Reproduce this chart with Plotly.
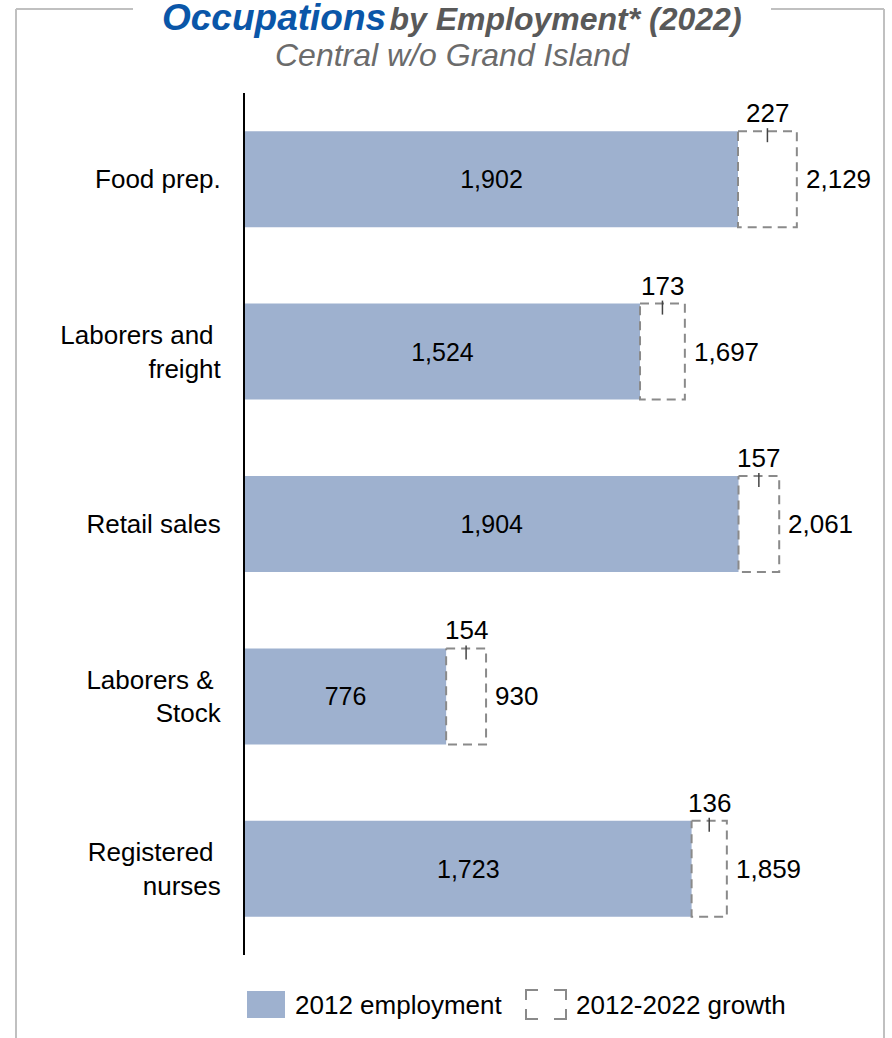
import plotly.graph_objects as go

# Occupation data, Central region excluding Grand Island
categories = ["Food prep.", "Laborers and <br>freight", "Retail sales",
              "Laborers & <br>Stock", "Registered <br>nurses"]
employment_2012 = [1902, 1524, 1904, 776, 1723]
growth_2012_2022 = [227, 173, 157, 154, 136]

totals = [b + g for b, g in zip(employment_2012, growth_2012_2022)]
positions = list(range(len(categories)))

W, H = 892, 1038
ML, MR, MT, MB = 245, 25, 93, 83
BAR_W = 0.557
HALF = BAR_W / 2

BLUE = "#9EB1CF"
DASH_GRAY = "#8a8a8a"
FRAME_GRAY = "#c0c0c0"
FONT = "Liberation Sans, Arial, sans-serif"

fig = go.Figure()

fig.add_trace(go.Bar(
    y=positions, x=employment_2012, orientation="h", width=BAR_W,
    marker=dict(color=BLUE, line=dict(width=0)),
    text=[f"{v:,}" for v in employment_2012],
    textposition="inside", insidetextanchor="middle", textangle=0,
    textfont=dict(size=25, color="black", family=FONT),
    constraintext="none", showlegend=False, hoverinfo="skip",
))

# Dashed outline for the 2012-2022 growth segment
bx, by = [], []
for p, b, t in zip(positions, employment_2012, totals):
    bx += [b, t, t, b, b, None]
    by += [p - HALF, p - HALF, p + HALF, p + HALF, p - HALF, None]
fig.add_trace(go.Scatter(
    x=bx, y=by, mode="lines",
    line=dict(color=DASH_GRAY, width=2, dash="9px,6px"),
    showlegend=False, hoverinfo="skip",
))

# Small tick at the centre of each growth box's top edge
unit_px = (H - MT - MB) / len(categories)
tx, ty = [], []
for p, b, g in zip(positions, employment_2012, growth_2012_2022):
    mid = b + g / 2
    top = p - HALF
    tx += [mid, mid, None]
    ty += [top - 3 / unit_px, top + 11 / unit_px, None]
fig.add_trace(go.Scatter(
    x=tx, y=ty, mode="lines", line=dict(color="#444444", width=1.5),
    showlegend=False, hoverinfo="skip",
))

annotations = []
for p, b, g, t in zip(positions, employment_2012, growth_2012_2022, totals):
    annotations.append(dict(
        x=b + g / 2, y=p - HALF, xref="x", yref="y", text=f"{g:,}",
        showarrow=False, yanchor="bottom", yshift=1,
        font=dict(size=26, color="black", family=FONT)))
    annotations.append(dict(
        x=t, y=p, xref="x", yref="y", text=f"{t:,}",
        showarrow=False, xanchor="left", xshift=7,
        font=dict(size=26, color="black", family=FONT)))

pw = W - ML - MR
ph = H - MT - MB


def px_x(v):
    return (v - ML) / pw


def px_y(v):
    return (H - MB - v) / ph


# Title and subtitle
annotations.append(dict(
    x=px_x(452), y=px_y(17), xref="paper", yref="paper", showarrow=False,
    xanchor="center", yanchor="middle",
    text="<b><i><span style='color:#0a56a8;font-size:37px'>Occupations</span>"
         " <span style='color:#595959;font-size:32px'>by Employment* (2022)</span></i></b>",
    font=dict(family=FONT)))
annotations.append(dict(
    x=px_x(452), y=px_y(55), xref="paper", yref="paper", showarrow=False,
    xanchor="center", yanchor="middle", text="<i>Central w/o Grand Island</i>",
    font=dict(size=32, color="#6b6b6b", family=FONT)))

# Legend text
annotations.append(dict(
    x=px_x(293), y=px_y(1005), xref="paper", yref="paper", showarrow=False,
    xanchor="left", yanchor="middle", text="2012 employment",
    font=dict(size=26, color="black", family=FONT)))
annotations.append(dict(
    x=px_x(574), y=px_y(1005), xref="paper", yref="paper", showarrow=False,
    xanchor="left", yanchor="middle", text="2012-2022 growth",
    font=dict(size=26, color="black", family=FONT)))

shapes = []
# Outer frame with a gap behind the title
for x0, y0, x1, y1 in [(16, 9, 133, 9), (771, 9, 884, 9),
                       (16, 9, 16, 1040), (884, 9, 884, 1040)]:
    shapes.append(dict(type="line", xref="paper", yref="paper",
                       x0=px_x(x0), y0=px_y(y0), x1=px_x(x1), y1=px_y(y1),
                       line=dict(color=FRAME_GRAY, width=2)))

# Legend swatches
shapes.append(dict(type="rect", xref="paper", yref="paper",
                   x0=px_x(247), x1=px_x(285), y0=px_y(991), y1=px_y(1018),
                   fillcolor=BLUE, line=dict(width=0)))
lx0, lx1, ly0, ly1 = 526, 566, 990, 1019
arm_x, arm_y = 12, 10
corners = (
    f"M {px_x(lx0)},{px_y(ly0 + arm_y)} L {px_x(lx0)},{px_y(ly0)} L {px_x(lx0 + arm_x)},{px_y(ly0)} "
    f"M {px_x(lx1 - arm_x)},{px_y(ly0)} L {px_x(lx1)},{px_y(ly0)} L {px_x(lx1)},{px_y(ly0 + arm_y)} "
    f"M {px_x(lx1)},{px_y(ly1 - arm_y)} L {px_x(lx1)},{px_y(ly1)} L {px_x(lx1 - arm_x)},{px_y(ly1)} "
    f"M {px_x(lx0 + arm_x)},{px_y(ly1)} L {px_x(lx0)},{px_y(ly1)} L {px_x(lx0)},{px_y(ly1 - arm_y)}"
)
shapes.append(dict(type="path", xref="paper", yref="paper", path=corners,
                   line=dict(color=DASH_GRAY, width=2)))

fig.update_layout(
    width=W, height=H,
    margin=dict(l=ML, r=MR, t=MT, b=MB),
    plot_bgcolor="white", paper_bgcolor="white",
    showlegend=False,
    xaxis=dict(range=[0, pw / 0.2592], visible=False, fixedrange=True),
    yaxis=dict(range=[len(categories) - 0.5, -0.5], tickvals=positions,
               ticktext=categories, showline=True, linecolor="black",
               linewidth=2, showgrid=False, zeroline=False, ticks="",
               ticklabelstandoff=17,
               tickfont=dict(size=26, color="black", family=FONT)),
    annotations=annotations, shapes=shapes,
)

fig.write_html("out.html")
